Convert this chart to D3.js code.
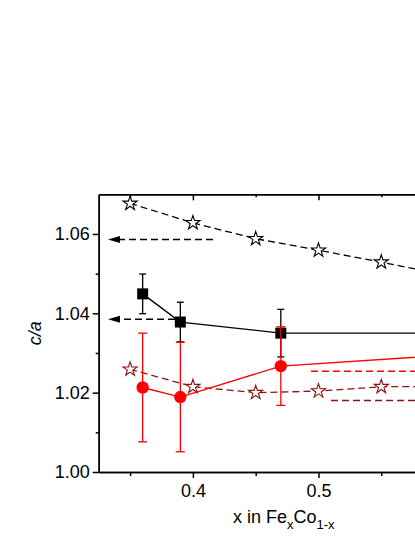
<!DOCTYPE html>
<html>
<head>
<meta charset="utf-8">
<script src="https://cdn.jsdelivr.net/npm/d3@7"></script>
<style>
    body {margin: 0; background: #fff;}
    svg {display: block;}
</style>
</head>
<body>
<svg id="drawingSpace" width="415" height="537"></svg>
<script>
//data (x = Fe fraction, y = c/a)
var starBlackX = [0.35, 0.40, 0.45, 0.50, 0.55, 0.60],
    starBlackY = [1.0677, 1.0628, 1.0588, 1.0559, 1.0529, 1.0497];

var squareX = [0.36, 0.39, 0.47, 0.60],
    squareY = [1.0449, 1.0378, 1.0350, 1.0350],
    squareErr = [0.005, 0.005, 0.006, 0.006];

var circleX = [0.36, 0.39, 0.47, 0.60],
    circleY = [1.0213, 1.0189, 1.0267, 1.0294],
    circleErr = [0.0137, 0.0138, 0.0099, 0.0099];

var starRedX = [0.35, 0.40, 0.45, 0.50, 0.55, 0.60],
    starRedY = [1.0259, 1.0215, 1.0200, 1.0204, 1.0215, 1.0215];

//horizontal dashed arrows: [value, from, to]  (arrow points at "to")
var arrowsLeft = [[1.0586, 0.416, 0.3324], [1.0385, 0.3858, 0.3324]],
    arrowsRight = [[1.0254, 0.494, 0.62, "red"], [1.0180, 0.510, 0.62, "dark"]];

var yMajor = [1.00, 1.02, 1.04, 1.06],
    yMinor = [1.01, 1.03, 1.05],
    xMajor = [0.4, 0.5],
    xMinor = [0.35, 0.45, 0.55];

var red = "#ff0000",
    darkRed = "#8e1212",
    font = "'Liberation Sans', Arial, sans-serif";

var svg = d3.select("#drawingSpace"),
    margin = {top: 194.3, left: 98.7, bottom: 65},
    height = +svg.attr("height");

var x = d3.scaleLinear().domain([0.325, 0.625]).range([margin.left, margin.left + 376.8]),
    y = d3.scaleLinear().domain([1.00, 1.07]).range([height - margin.bottom, margin.top]);

//axes
function styleAxis(g) {
    g.attr("font-family", font).attr("font-size", 18);
    g.selectAll("path, line").attr("stroke", "#000").attr("stroke-width", 1.5);
    g.selectAll("text").attr("fill", "#000");
}

svg.append("g")
    .attr("transform", "translate(" + margin.left + ",0)")
    .call(d3.axisLeft(y).tickValues(yMajor).tickFormat(d3.format(".2f")).tickSize(6).tickSizeOuter(0).tickPadding(3))
    .call(styleAxis);
svg.append("g")
    .attr("transform", "translate(" + margin.left + ",0)")
    .call(d3.axisLeft(y).tickValues(yMinor).tickFormat("").tickSize(3).tickSizeOuter(0))
    .call(styleAxis);

svg.append("g")
    .attr("transform", "translate(0," + y(1.00) + ")")
    .call(d3.axisBottom(x).tickValues(xMajor).tickFormat(d3.format(".1f")).tickSize(6).tickSizeOuter(0).tickPadding(6))
    .call(styleAxis);
svg.append("g")
    .attr("transform", "translate(0," + y(1.00) + ")")
    .call(d3.axisBottom(x).tickValues(xMinor).tickFormat("").tickSize(4).tickSizeOuter(0))
    .call(styleAxis);

//top axis, ticks point inward
svg.append("g")
    .attr("transform", "translate(0," + y(1.07) + ")")
    .call(d3.axisTop(x).tickValues(xMajor).tickFormat("").tickSize(-6).tickSizeOuter(0))
    .call(styleAxis);
svg.append("g")
    .attr("transform", "translate(0," + y(1.07) + ")")
    .call(d3.axisTop(x).tickValues(xMinor).tickFormat("").tickSize(-3).tickSizeOuter(0))
    .call(styleAxis);

//axis titles
svg.append("text")
    .attr("transform", "translate(41," + ((y(1.00) + y(1.07)) / 2) + ") rotate(-90)")
    .attr("text-anchor", "middle")
    .attr("font-family", font)
    .attr("font-size", 18)
    .attr("font-style", "italic")
    .text("c/a");

var xTitle = svg.append("text")
    .attr("x", 233)
    .attr("y", 523)
    .attr("font-family", font)
    .attr("font-size", 18);
xTitle.append("tspan").text("x in Fe");
xTitle.append("tspan").attr("dy", 6).attr("font-size", 13).text("x");
xTitle.append("tspan").attr("dy", -6).text("Co");
xTitle.append("tspan").attr("dy", 6).attr("font-size", 13).text("1-x");

//helpers
function zip(xs, ys) {
    return xs.map(function (d, i) {
        return {x: d, y: ys[i]};
    });
}

var line = d3.line()
    .x(function (d) { return x(d.x); })
    .y(function (d) { return y(d.y); });

var plot = svg.append("g").attr("class", "plot");

//dashed arrows
arrowsLeft.forEach(function (a) {
    var tip = x(a[2]), yy = y(a[0]);
    plot.append("line")
        .attr("x1", x(a[1])).attr("x2", tip + 10)
        .attr("y1", yy).attr("y2", yy)
        .attr("stroke", "#000").attr("stroke-width", 1.5)
        .attr("stroke-dasharray", "7,4");
    plot.append("path")
        .attr("d", "M" + tip + "," + yy + "L" + (tip + 12) + "," + (yy - 3.5) + "L" + (tip + 12) + "," + (yy + 3.5) + "Z")
        .attr("fill", "#000");
});

arrowsRight.forEach(function (a) {
    var tip = x(a[2]), yy = y(a[0]), c = a[3] === "red" ? red : darkRed;
    plot.append("line")
        .attr("x1", x(a[1])).attr("x2", tip - 10)
        .attr("y1", yy).attr("y2", yy)
        .attr("stroke", c).attr("stroke-width", 1.5)
        .attr("stroke-dasharray", "7,4");
    plot.append("path")
        .attr("d", "M" + tip + "," + yy + "L" + (tip - 12) + "," + (yy - 3.5) + "L" + (tip - 12) + "," + (yy + 3.5) + "Z")
        .attr("fill", c);
});

var star = d3.symbol().type(d3.symbolStar).size(62);

//black stars, dashed
var blackStars = zip(starBlackX, starBlackY);
plot.append("path")
    .attr("d", line(blackStars))
    .attr("fill", "none").attr("stroke", "#000").attr("stroke-width", 1.3)
    .attr("stroke-dasharray", "7,4");
plot.selectAll(".starBlack").data(blackStars).enter().append("path")
    .attr("class", "starBlack")
    .attr("d", star)
    .attr("transform", function (d) { return "translate(" + x(d.x) + "," + y(d.y) + ")"; })
    .attr("fill", "#fff").attr("stroke", "#000").attr("stroke-width", 1.1);

//error bars
function errorBars(data, color, cap) {
    var g = plot.append("g");
    data.forEach(function (d) {
        g.append("line")
            .attr("x1", x(d.x)).attr("x2", x(d.x))
            .attr("y1", y(d.y - d.e)).attr("y2", y(d.y + d.e))
            .attr("stroke", color).attr("stroke-width", 1.3);
        [d.y - d.e, d.y + d.e].forEach(function (v) {
            g.append("line")
                .attr("x1", x(d.x) - cap).attr("x2", x(d.x) + cap)
                .attr("y1", y(v)).attr("y2", y(v))
                .attr("stroke", color).attr("stroke-width", 1.3);
        });
    });
}

//black squares, solid
var squares = squareX.map(function (d, i) {
    return {x: d, y: squareY[i], e: squareErr[i]};
});
errorBars(squares, "#000", 3.5);
plot.append("path")
    .attr("d", line(squares))
    .attr("fill", "none").attr("stroke", "#000").attr("stroke-width", 1.3);
plot.selectAll(".square").data(squares).enter().append("rect")
    .attr("class", "square")
    .attr("x", function (d) { return x(d.x) - 5.5; })
    .attr("y", function (d) { return y(d.y) - 5.5; })
    .attr("width", 11).attr("height", 11)
    .attr("fill", "#000");

//dark red stars, dashed
var redStars = zip(starRedX, starRedY);
plot.append("path")
    .attr("d", line(redStars))
    .attr("fill", "none").attr("stroke", darkRed).attr("stroke-width", 1.3)
    .attr("stroke-dasharray", "7,4");
plot.selectAll(".starRed").data(redStars).enter().append("path")
    .attr("class", "starRed")
    .attr("d", star)
    .attr("transform", function (d) { return "translate(" + x(d.x) + "," + y(d.y) + ")"; })
    .attr("fill", "#fff").attr("stroke", darkRed).attr("stroke-width", 1.1);

//red circles, solid
var circles = circleX.map(function (d, i) {
    return {x: d, y: circleY[i], e: circleErr[i]};
});
plot.append("path")
    .attr("d", line(circles))
    .attr("fill", "none").attr("stroke", red).attr("stroke-width", 1.3);
errorBars(circles, red, 4.5);
plot.selectAll(".circle").data(circles).enter().append("circle")
    .attr("class", "circle")
    .attr("cx", function (d) { return x(d.x); })
    .attr("cy", function (d) { return y(d.y); })
    .attr("r", 6.2)
    .attr("fill", red);
</script>
</body>
</html>
